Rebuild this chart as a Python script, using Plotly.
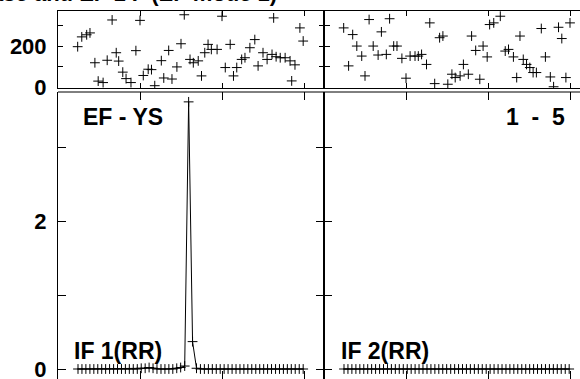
import plotly.graph_objects as go

# ---------------- data ----------------
# phase panels (degrees) : x in axis units, y in degrees
phase_ys_x = [2.4, 2.9, 3.5, 3.9, 4.5, 4.9, 5.5, 6.0, 6.6, 7.1, 7.4, 7.9, 8.3, 8.9, 9.5,
              10.0, 10.4, 11.0, 11.4, 11.8, 12.6, 12.9, 13.5, 13.9, 14.5, 15.0, 15.4, 16.1, 16.5, 17.1,
              17.5, 17.9, 18.3, 18.7, 19.4, 20.0, 20.4, 21.0, 21.4, 21.8, 22.4, 22.8, 23.4, 24.0, 24.4,
              25.0, 25.5, 26.1, 26.3, 26.6, 27.1, 27.7, 28.3, 28.5, 28.9, 29.5, 29.9]
phase_ys_y = [197, 244, 254, 263, 120, 32, 25, 132, 325, 168, 128, 75, 44, 25, 178,
              323, 59, 89, 87, 10, 130, 47, 179, 42, 100, 211, 350, 136, 120, 129,
              57, 168, 208, 184, 184, 343, 97, 208, 57, 97, 136, 144, 192, 231, 105,
              168, 136, 160, 335, 149, 144, 144, 129, 33, 110, 287, 224]

phase_15_x = [2.4, 3.0, 3.5, 4.0, 4.6, 5.0, 5.5, 6.0, 6.6, 7.0,
              7.6, 8.0, 8.5, 8.9, 9.5, 10.0, 10.5, 11.1, 11.5, 11.9,
              12.5, 12.9, 13.5, 14.1, 14.5, 15.1, 15.6, 16.0, 16.6, 17.0,
              17.6, 18.0, 18.5, 19.0, 19.4, 19.9, 20.2, 20.7, 21.5, 22.1,
              22.5, 23.1, 23.5, 23.9, 24.3, 24.7, 25.1, 25.5, 25.9, 26.5,
              27.0, 27.6, 28.0, 28.6, 29.0, 29.5, 30.0]
phase_15_y = [287, 105, 255, 200, 152, 57, 327, 200, 157, 268,
              160, 331, 200, 200, 141, 46, 152, 152, 152, 160,
              112, 311, 20, 240, 248, 17, 65, 49, 57, 112,
              65, 248, 179, 41, 200, 148, 303, 311, 343, 176,
              184, 148, 49, 248, 136, 112, 97, 73, 73, 284,
              148, 52, 5, 290, 236, 49, 311]

# amplitude panels: equally spaced samples
n_samples = 58
sample_x = [round(2.44 + 0.4817 * i, 2) for i in range(n_samples)]
amp_if1 = [0.00, 0.00, 0.00, 0.00, 0.00, 0.00, 0.00, 0.00, 0.00, 0.00,
           0.00, 0.00, 0.00, 0.00, 0.00, 0.00, 0.01, 0.01, 0.02, 0.01,
           0.00, 0.00, 0.00, 0.00, 0.00, 0.01, 0.02, 0.04, 3.61, 0.37,
           0.01, 0.00, 0.00, 0.00, 0.00, 0.00, 0.00, 0.00, 0.00, 0.00,
           0.00, 0.00, 0.00, 0.00, 0.00, 0.00, 0.00, 0.00, 0.00, 0.00,
           0.00, 0.00, 0.00, 0.00, 0.00, 0.00, 0.00, 0.00]
amp_if2 = [0.00, 0.00, 0.00, 0.00, 0.00, 0.00, 0.00, 0.00, 0.00, 0.00,
           0.00, 0.00, 0.00, 0.00, 0.00, 0.00, 0.00, 0.00, 0.00, 0.00,
           0.00, 0.00, 0.00, 0.00, 0.00, 0.00, 0.00, 0.00, 0.00, 0.00,
           0.00, 0.00, 0.00, 0.00, 0.00, 0.00, 0.00, 0.00, 0.00, 0.00,
           0.00, 0.00, 0.00, 0.00, 0.00, 0.00, 0.00, 0.00, 0.00, 0.00,
           0.00, 0.00, 0.00, 0.00, 0.00, 0.00, 0.00, 0.00]

phase_ticks = [0, 100, 200, 300]
phase_ticktext = ["0", "", "200", ""]
amp_ticks = [0, 1, 2, 3]
amp_ticktext = ["0", "", "2", ""]
x_ticks = [0, 10, 20, 30]

title_text = "Phase and EF 1 F (EF mode 1)"
labels = {"tl": "EF - YS", "tr": "1\u00a0\u00a0-\u00a0\u00a05", "bl": "IF 1(RR)", "br": "IF 2(RR)"}

# ---------------- figure ----------------
W, H = 580, 379
FONT = "Liberation Sans"
BLACK = "#000000"

def px_x(p):
    return p / W

def px_y(p):
    return (H - p) / H

fig = go.Figure()

cross = dict(symbol="cross-thin", size=7, color=BLACK, line=dict(width=1, color=BLACK))

fig.add_trace(go.Scatter(x=phase_ys_x, y=phase_ys_y, mode="markers", marker=cross,
                         xaxis="x", yaxis="y"))
fig.add_trace(go.Scatter(x=phase_15_x, y=phase_15_y, mode="markers", marker=cross,
                         xaxis="x2", yaxis="y2"))
fig.add_trace(go.Scatter(x=sample_x, y=amp_if1, mode="lines+markers", marker=cross,
                         line=dict(color=BLACK, width=1), xaxis="x3", yaxis="y3"))
fig.add_trace(go.Scatter(x=sample_x, y=amp_if2, mode="lines+markers", marker=cross,
                         line=dict(color=BLACK, width=1), xaxis="x4", yaxis="y4"))

left_dom = [px_x(58), px_x(324)]
right_dom = [px_x(324), 1.0]
top_dom = [px_y(88), px_y(11)]
bot_dom = [0.0, px_y(92)]

tickfont = dict(family=FONT, size=22, color=BLACK, weight="bold")

def xax(dom, anchor, rng, tlen, showline=True):
    return dict(domain=dom, anchor=anchor, range=rng, tickvals=x_ticks, showticklabels=False,
                ticks="inside", ticklen=tlen, tickwidth=1, tickcolor=BLACK,
                showline=showline, linecolor=BLACK, linewidth=1, mirror="ticks",
                showgrid=False, zeroline=False, automargin=False)

def yax(dom, anchor, rng, tv, tt, tlen, labels_on, mirror):
    return dict(domain=dom, anchor=anchor, range=rng, tickvals=tv, ticktext=tt,
                showticklabels=labels_on, tickfont=tickfont, ticklabelstandoff=6,
                ticklabeloverflow="allow",
                ticks="inside", ticklen=tlen, tickwidth=1, tickcolor=BLACK,
                showline=True, linecolor=BLACK, linewidth=1, mirror=mirror,
                showgrid=False, zeroline=False, automargin=False)

xr_left = [0, 266 / 8.2]
xr_right = [0, 256 / 8.2]
yr_top = [-1, 368]
yr_bot = [-10 / 74, 277 / 74]

fig.update_layout(
    width=W, height=H, autosize=False,
    margin=dict(l=0, r=0, t=0, b=0, autoexpand=False),
    paper_bgcolor="white", plot_bgcolor="white",
    showlegend=False,
    xaxis=xax(left_dom, "y", xr_left, 5),
    yaxis=yax(top_dom, "x", yr_top, phase_ticks, phase_ticktext, 5, True, "ticks"),
    xaxis2=xax(right_dom, "y2", xr_right, 5),
    yaxis2=yax(top_dom, "x2", yr_top, phase_ticks, phase_ticktext, 6, False, False),
    xaxis3=xax(left_dom, "y3", xr_left, 8, showline=False),
    yaxis3=yax(bot_dom, "x3", yr_bot, amp_ticks, amp_ticktext, 8, True, "ticks"),
    xaxis4=xax(right_dom, "y4", xr_right, 8, showline=False),
    yaxis4=yax(bot_dom, "x4", yr_bot, amp_ticks, amp_ticktext, 8, False, False),
)

# top border of the lower panels
fig.add_shape(type="line", xref="paper", yref="paper", x0=left_dom[0], x1=1.0,
              y0=bot_dom[1], y1=bot_dom[1], line=dict(color=BLACK, width=1))

lab_font = dict(family=FONT, size=23, color=BLACK, weight="bold")
fig.add_annotation(text=labels["tl"], xref="paper", yref="paper", x=px_x(81), y=px_y(117),
                   xanchor="left", yanchor="middle", showarrow=False, font=lab_font)
fig.add_annotation(text=labels["tr"], xref="paper", yref="paper", x=px_x(567), y=px_y(117),
                   xanchor="right", yanchor="middle", showarrow=False, font=lab_font)
fig.add_annotation(text=labels["bl"], xref="paper", yref="paper", x=px_x(72), y=px_y(351),
                   xanchor="left", yanchor="middle", showarrow=False, font=lab_font)
fig.add_annotation(text=labels["br"], xref="paper", yref="paper", x=px_x(339), y=px_y(351),
                   xanchor="left", yanchor="middle", showarrow=False, font=lab_font)
fig.add_annotation(text=title_text, xref="paper", yref="paper", x=px_x(279), y=px_y(-6.5),
                   xanchor="right", yanchor="middle", showarrow=False,
                   font=dict(family=FONT, size=22, color=BLACK, weight="bold"))

page_css = (
    "var s=document.createElement('style');"
    "s.textContent='html,body{margin:0;padding:0;width:580px;height:379px;overflow:hidden;}"
    "body>div{height:379px;overflow:hidden;}';"
    "document.head.appendChild(s);"
)

fig.write_html(
    "out.html",
    config={"displayModeBar": False, "responsive": False},
    post_script=page_css,
)
